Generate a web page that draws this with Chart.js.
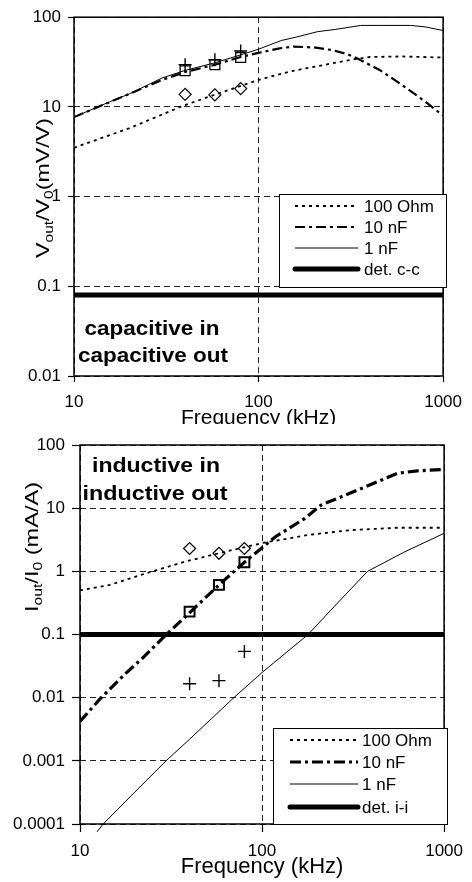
<!DOCTYPE html>
<html>
<head>
<meta charset="utf-8">
<script src="https://cdn.jsdelivr.net/npm/chart.js@4.4.1/dist/chart.umd.min.js"></script>
<style>
  html, body { margin: 0; padding: 0; background: #fff; }
  #top { position: absolute; left: 0; top: 0; width: 472px; height: 424px; overflow: hidden; }
  #top .inner { position: relative; width: 472px; height: 432px; }
  #bot { position: absolute; left: 0; top: 424px; width: 472px; height: 458px; }
</style>
</head>
<body>
<div id="top"><div class="inner"><canvas id="capChart"></canvas></div></div>
<div id="bot"><canvas id="indChart"></canvas></div>
<script>
// ---- data (kHz on x, log scales) ----
const freqTicks = [10, 100, 1000];
const capTicks = [0.01, 0.1, 1, 10, 100];
const indTicks = [0.0001, 0.001, 0.01, 0.1, 1, 10, 100];
const measFreq = [40, 58, 80];

// capacitive in / capacitive out  (mV/V)
const capOhmFreq = [10, 20, 39.5, 60, 100, 150, 200, 316, 400, 600, 1000];
const capOhm     = [3.5, 5.8, 10.4, 14, 20, 25, 28, 33.5, 36, 36.5, 35.5];
const cap10nFFreq = [10, 20, 30, 40, 58, 80, 100, 130, 155, 200, 250, 300, 350, 450, 546, 700, 820, 1000];
const cap10nF     = [7.7, 14, 20, 24.5, 29.5, 36, 40, 45, 47, 46, 43, 39, 34, 26, 20, 14, 11, 8];
const cap1nFFreq = [10, 15, 20, 30, 40, 58, 80, 100, 133, 160, 209, 260, 358, 450, 665, 800, 1000];
const cap1nF     = [7.7, 11, 14, 21, 25.5, 31, 38, 44, 55, 60, 69, 73, 81, 81, 81, 78, 71];
const capDet = 0.08;
const capMeasOhm = [13.8, 13.6, 16];
const capMeas10nF = [25.3, 29.5, 35.6];
const capMeas1nF = [29.5, 33.6, 42];

// inductive in / inductive out  (mA/A)
const indOhmFreq = [10, 14.6, 23, 38, 63, 100, 179, 309, 555, 1000];
const indOhm     = [0.5, 0.61, 0.93, 1.43, 2.05, 2.8, 3.77, 4.5, 4.9, 4.9];
const ind10nFFreq = [10, 12.85, 17.9, 22, 29.7, 40.6, 58, 80, 118, 172, 211, 336, 555, 713, 1000];
const ind10nF     = [0.0042, 0.0095, 0.0245, 0.042, 0.099, 0.23, 0.61, 1.39, 3.5, 6.9, 11.2, 19.4, 35.6, 39, 41];
const ind1nFFreq = [12.4, 13.4, 20, 29.7, 40, 70, 100, 179, 250, 380, 600, 1000];
const ind1nF     = [0.000075, 0.0001, 0.00032, 0.001, 0.0022, 0.01, 0.025, 0.1, 0.28, 1.0, 2.0, 4.0];
const indDet = 0.1;
const indMeasOhm = [2.3, 1.93, 2.3];
const indMeas10nF = [0.23, 0.61, 1.39];
const indMeas1nF = [0.0166, 0.0186, 0.054];

const FONT = '"Liberation Sans", Arial, sans-serif';
Chart.defaults.font.family = FONT;
Chart.defaults.color = '#000';

const pts = (xs, ys) => xs.map((x, i) => ({ x, y: ys[i] }));

function line(label, xs, ys, width, dash) {
  return { label, data: pts(xs, ys), borderColor: '#000', borderWidth: width, borderDash: dash,
    pointRadius: 0, fill: false, tension: 0, showLegend: true };
}
function marks(ys, style, r, w) {
  return { data: pts(measFreq, ys), showLine: false, pointStyle: style, pointRadius: r,
    pointBorderColor: '#000', pointBorderWidth: w, pointBackgroundColor: 'rgba(0,0,0,0)' };
}

// draws text squeezed/stretched to a given width
function fitText(ctx, text, x, y, width, font) {
  ctx.save();
  ctx.font = font;
  const w = ctx.measureText(text).width;
  ctx.translate(x, y);
  ctx.scale(width / w, 1);
  ctx.textAlign = 'center';
  ctx.textBaseline = 'alphabetic';
  ctx.fillText(text, 0, 0);
  ctx.restore();
}

// plot frame, boxed legend, notes and the rotated y title with subscripts
const decor = {
  id: 'decor',
  afterDraw(chart, args, o) {
    const { ctx, chartArea: a } = chart;
    ctx.save();
    ctx.fillStyle = '#000';
    ctx.strokeStyle = '#000';

    // frame
    ctx.lineWidth = 1.5;
    ctx.strokeRect(a.left, a.top, a.right - a.left, a.bottom - a.top);

    // legend box
    const [bx0, by0, bx1, by1] = o.box;
    ctx.fillStyle = '#fff';
    ctx.fillRect(bx0, by0, bx1 - bx0, by1 - by0);
    ctx.lineWidth = 1;
    ctx.strokeRect(bx0 + 0.5, by0 + 0.5, bx1 - bx0, by1 - by0);
    ctx.fillStyle = '#000';
    ctx.font = '17px ' + FONT;
    ctx.textBaseline = 'middle';
    ctx.textAlign = 'left';
    chart.data.datasets.filter(d => d.showLegend).forEach((d, i) => {
      const y = o.rows[i];
      ctx.save();
      ctx.lineWidth = d.borderWidth;
      ctx.setLineDash(d.borderDash || []);
      ctx.lineCap = d.borderWidth >= 4 ? 'round' : 'butt';
      ctx.beginPath();
      ctx.moveTo(o.lineX[0], y);
      ctx.lineTo(o.lineX[1], y);
      ctx.stroke();
      ctx.restore();
      ctx.fillText(d.label, o.textX, y + 1);
    });

    // notes inside the plot
    o.notes.forEach(n => fitText(ctx, n.text, n.x, n.y, n.w, 'bold 20px ' + FONT));

    // y title
    const t = o.ytitle, fs = 18, sub = 12;
    let total = 0;
    t.parts.forEach(p => { ctx.font = (p.sub ? sub : fs) + 'px ' + FONT; total += ctx.measureText(p.t).width; });
    ctx.translate(t.x, t.y);
    ctx.rotate(-Math.PI / 2);
    ctx.scale(t.len / total, 1);
    ctx.textAlign = 'left';
    ctx.textBaseline = 'alphabetic';
    let u = -total / 2;
    t.parts.forEach(p => {
      ctx.font = (p.sub ? sub : fs) + 'px ' + FONT;
      ctx.fillText(p.t, u, p.sub ? 4 : 0);
      u += ctx.measureText(p.t).width;
    });
    ctx.restore();
  }
};

function scales(yTicks, ymin, g) {
  return {
    x: {
      type: 'logarithmic', min: 10, max: 1000,
      afterBuildTicks: s => { s.ticks = freqTicks.map(v => ({ value: v })); },
      afterFit: s => { s.height = g.xh; },
      ticks: { callback: v => String(v), font: { size: 17 }, color: '#000', padding: g.xpad, maxRotation: 0, autoSkip: false },
      grid: { color: '#222', lineWidth: 1, tickLength: g.tick, tickColor: '#000', tickWidth: 1.2 },
      border: { display: false, dash: [6, 4] },
      title: { display: true, text: 'Frequency (kHz)', font: { size: g.tfs, weight: 'normal' }, padding: { top: 0, bottom: g.tpb } }
    },
    y: {
      type: 'logarithmic', min: ymin, max: 100,
      afterBuildTicks: s => { s.ticks = yTicks.map(v => ({ value: v })); },
      afterFit: s => { s.width = g.yw; },
      ticks: { callback: v => String(v), font: { size: 17 }, color: '#000', padding: 7, autoSkip: false },
      grid: { color: '#222', lineWidth: 1, tickLength: g.tick, tickColor: '#000', tickWidth: 1.2 },
      border: { display: false, dash: [6, 4] }
    }
  };
}

new Chart(document.getElementById('capChart'), {
  type: 'line',
  data: {
    datasets: [
      line('100 Ohm', capOhmFreq, capOhm, 1.8, [3, 4]),
      line('10 nF', cap10nFFreq, cap10nF, 2.2, [10, 4, 3, 4]),
      line('1 nF', cap1nFFreq, cap1nF, 1, []),
      line('det. c-c', [10, 1000], [capDet, capDet], 5, []),
      marks(capMeasOhm, 'rectRot', 6, 1.2),
      marks(capMeas10nF, 'rect', 7, 1.3),
      marks(capMeas1nF, 'cross', 6.5, 1.4)
    ]
  },
  options: {
    responsive: true, maintainAspectRatio: false, animation: false,
    layout: { padding: { top: 14, right: 26, left: 0, bottom: 0 } },
    plugins: {
      legend: { display: false }, tooltip: { enabled: false },
      decor: {
        box: [279, 194, 446, 287], rows: [206, 227, 248, 269], lineX: [295, 358], textX: 364,
        notes: [{ text: 'capacitive in', x: 152, y: 335, w: 135 }, { text: 'capacitive out', x: 153, y: 362, w: 150 }],
        ytitle: { x: 49, y: 188, len: 140, parts: [{ t: 'V' }, { t: 'out', sub: 1 }, { t: '/V' }, { t: '0', sub: 1 }, { t: '(mV/V)' }] }
      }
    },
    scales: scales(capTicks, 0.01, { xh: 56, yw: 74, tick: 6, xpad: 10, tfs: 21, tpb: 1 })
  },
  plugins: [decor]
});

new Chart(document.getElementById('indChart'), {
  type: 'line',
  data: {
    datasets: [
      line('100 Ohm', indOhmFreq, indOhm, 1.8, [3, 4]),
      line('10 nF', ind10nFFreq, ind10nF, 3.2, [11, 4, 3, 4]),
      Object.assign(line('1 nF', ind1nFFreq, ind1nF, 1, []), { clip: false }),
      line('det. i-i', [10, 1000], [indDet, indDet], 5, []),
      marks(indMeasOhm, 'rectRot', 6, 1.2),
      marks(indMeas10nF, 'rect', 7, 2),
      marks(indMeas1nF, 'cross', 6.5, 1.4)
    ]
  },
  options: {
    responsive: true, maintainAspectRatio: false, animation: false,
    layout: { padding: { top: 21, right: 25, left: 0, bottom: 0 } },
    plugins: {
      legend: { display: false }, tooltip: { enabled: false },
      decor: {
        box: [273, 304, 447, 400], rows: [316, 338, 360, 383], lineX: [290, 358], textX: 362,
        notes: [{ text: 'inductive in', x: 156, y: 48, w: 128 }, { text: 'inductive out', x: 155, y: 76, w: 145 }],
        ytitle: { x: 38, y: 123, len: 130, parts: [{ t: 'I' }, { t: 'out', sub: 1 }, { t: '/I' }, { t: '0', sub: 1 }, { t: ' (mA/A)' }] }
      }
    },
    scales: scales(indTicks, 0.0001, { xh: 58, yw: 80, tick: 8, xpad: 9, tfs: 22, tpb: 2 })
  },
  plugins: [decor]
});
</script>
</body>
</html>
